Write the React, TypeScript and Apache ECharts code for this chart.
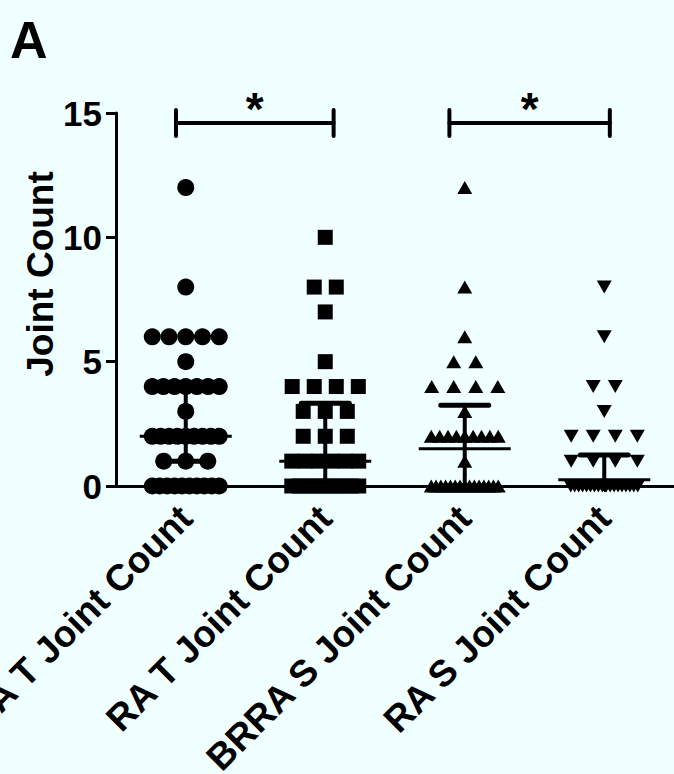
import React, { useEffect, useRef } from 'react';
import * as echarts from 'echarts';

// ---- data ----
const categories = ['BRRA T Joint Count', 'RA T Joint Count', 'BRRA S Joint Count', 'RA S Joint Count'];
const brraT = [12, 8, 6, 6, 6, 6, 6, 5, 4, 4, 4, 4, 4, 4, 4, 3, 2, 2, 2, 2, 2, 2, 2, 2, 2, 1, 1, 1, 0, 0, 0, 0, 0, 0, 0, 0, 0, 0];
const raT = [10, 8, 8, 7, 5, 4, 4, 4, 4, 3, 3, 3, 2, 2, 2, 1, 1, 1, 1, 1, 1, 0, 0, 0, 0, 0, 0, 0, 0, 0, 0];
const brraS = [12, 8, 6, 5, 5, 4, 4, 4, 4, 3, 2, 2, 2, 2, 2, 2, 2, 2, 2, 1, 0, 0, 0, 0, 0, 0, 0, 0, 0, 0, 0, 0, 0, 0, 0];
const raS = [8, 6, 4, 4, 3, 2, 2, 2, 2, 1, 1, 1, 1, 0, 0, 0, 0, 0, 0, 0, 0, 0, 0, 0, 0, 0, 0, 0, 0, 0, 0];
const medians = [2, 1, 1.5, 0.25];
const q1s = [1, 0, 0, 0];
const q3s = [4, 3.33, 3.25, 1.25];
const yMin = 0;
const yMax = 15;
const yInterval = 5;
const bracketFrom = [-0.07, 1.89];
const bracketTo = [1.06, 3.04];
const bracketLevel = [14.6, 14.6];
const bracketLabels = ['*', '*'];

const FONT = '"Liberation Sans", Arial, Helvetica, sans-serif';
const MAX_STEP = 0.158; // horizontal spacing between equal values (category units)
const MAX_SPAN = 0.48; // widest spread of one row (category units)

function spread(values: number[], cat: number): number[][] {
  const counts = new Map<number, number>();
  values.forEach((v) => counts.set(v, (counts.get(v) || 0) + 1));
  const pts: number[][] = [];
  counts.forEach((n, v) => {
    const step = n > 1 ? Math.min(MAX_STEP, MAX_SPAN / (n - 1)) : 0;
    for (let i = 0; i < n; i++) pts.push([cat + (i - (n - 1) / 2) * step, v]);
  });
  return pts;
}

export default function App() {
  const ref = useRef<HTMLDivElement>(null);
  useEffect(() => {
    if (!ref.current) return;
    const chart = echarts.init(ref.current, null, { renderer: 'svg' });
    const scatterBase = {
      type: 'scatter',
      xAxisIndex: 1,
      clip: false,
      itemStyle: { color: '#000', opacity: 1 },
      z: 3,
    };
    chart.setOption({
      animation: false,
      backgroundColor: '#F0FFFF',
      textStyle: { fontFamily: FONT },
      grid: { left: 116, right: 0, top: 113, bottom: 288, containLabel: false, outerBoundsMode: 'none' },
      graphic: [
        {
          type: 'text',
          x: 10,
          y: 40,
          style: { text: 'A', fontSize: 52, fontWeight: 'bold', fontFamily: FONT, fill: '#000', align: 'left', verticalAlign: 'middle' },
        },
        {
          type: 'text',
          x: 40,
          y: 274,
          rotation: Math.PI / 2,
          style: { text: 'Joint Count', fontSize: 37, fontWeight: 'bold', fontFamily: FONT, fill: '#000', align: 'center', verticalAlign: 'middle' },
        },
      ],
      xAxis: [
        {
          type: 'category',
          data: categories,
          boundaryGap: true,
          axisLine: { lineStyle: { color: '#000', width: 3 } },
          axisTick: { show: true, alignWithLabel: true, length: 6, lineStyle: { color: '#000', width: 2 } },
          axisLabel: { rotate: 45, margin: 26, color: '#000', fontSize: 37, fontWeight: 'bold', fontFamily: FONT, interval: 0 },
          splitLine: { show: false },
        },
        { type: 'value', min: -0.5, max: 3.5, show: false },
      ],
      yAxis: {
        type: 'value',
        min: yMin,
        max: yMax,
        interval: yInterval,
        axisLine: { show: true, onZero: false, lineStyle: { color: '#000', width: 3 } },
        axisTick: { show: true, length: 10, lineStyle: { color: '#000', width: 3 } },
        axisLabel: { margin: 14, color: '#000', fontSize: 35, fontWeight: 'bold', fontFamily: FONT },
        splitLine: { show: false },
      },
      series: [
        { ...scatterBase, name: categories[0], symbol: 'circle', symbolSize: 17, data: spread(brraT, 0) },
        { ...scatterBase, name: categories[1], symbol: 'rect', symbolSize: 15, data: spread(raT, 1) },
        { ...scatterBase, name: categories[2], symbol: 'triangle', symbolSize: [15, 13], data: spread(brraS, 2) },
        { ...scatterBase, name: categories[3], symbol: 'triangle', symbolRotate: 180, symbolSize: [15, 13], data: spread(raS, 3) },
        {
          type: 'custom',
          name: 'median-iqr',
          xAxisIndex: 1,
          clip: false,
          z: 4,
          data: categories.map((_, i) => [i, medians[i], q1s[i], q3s[i]]),
          renderItem: (_params: any, api: any) => {
            const x = api.value(0);
            const pm = api.coord([x, api.value(1)]);
            const pl = api.coord([x, api.value(2)]);
            const ph = api.coord([x, api.value(3)]);
            const st = { stroke: '#000', lineWidth: 3 };
            const cap = { stroke: '#000', lineWidth: 5, lineCap: 'round' };
            return {
              type: 'group',
              children: [
                { type: 'line', shape: { x1: pm[0] - 46, y1: pm[1], x2: pm[0] + 46, y2: pm[1] }, style: st },
                { type: 'line', shape: { x1: pl[0], y1: pl[1] + 5, x2: ph[0], y2: ph[1] }, style: { stroke: '#000', lineWidth: 4 } },
                { type: 'line', shape: { x1: ph[0] - 24, y1: ph[1], x2: ph[0] + 24, y2: ph[1] }, style: cap },
                { type: 'line', shape: { x1: pl[0] - 24, y1: pl[1], x2: pl[0] + 24, y2: pl[1] }, style: cap },
              ],
            };
          },
        },
        {
          type: 'custom',
          name: 'significance',
          xAxisIndex: 1,
          clip: false,
          z: 4,
          data: bracketFrom.map((f, i) => [f, bracketTo[i], bracketLevel[i]]),
          renderItem: (params: any, api: any) => {
            const a = api.coord([api.value(0), api.value(2)]);
            const b = api.coord([api.value(1), api.value(2)]);
            const st = { stroke: '#000', lineWidth: 4, lineCap: 'round' };
            return {
              type: 'group',
              children: [
                { type: 'line', shape: { x1: a[0], y1: a[1], x2: b[0], y2: b[1] }, style: st },
                { type: 'line', shape: { x1: a[0], y1: a[1] - 13, x2: a[0], y2: a[1] + 13 }, style: st },
                { type: 'line', shape: { x1: b[0], y1: b[1] - 13, x2: b[0], y2: b[1] + 13 }, style: st },
                {
                  type: 'text',
                  x: (a[0] + b[0]) / 2,
                  y: a[1] - 14,
                  style: {
                    text: bracketLabels[params.dataIndex],
                    fontSize: 46,
                    fontWeight: 'bold',
                    fontFamily: FONT,
                    fill: '#000',
                    align: 'center',
                    verticalAlign: 'middle',
                  },
                },
              ],
            };
          },
        },
      ],
    });
    return () => chart.dispose();
  }, []);
  return <div ref={ref} style={{ position: 'fixed', left: 0, top: 0, width: 674, height: 774 }} />;
}
